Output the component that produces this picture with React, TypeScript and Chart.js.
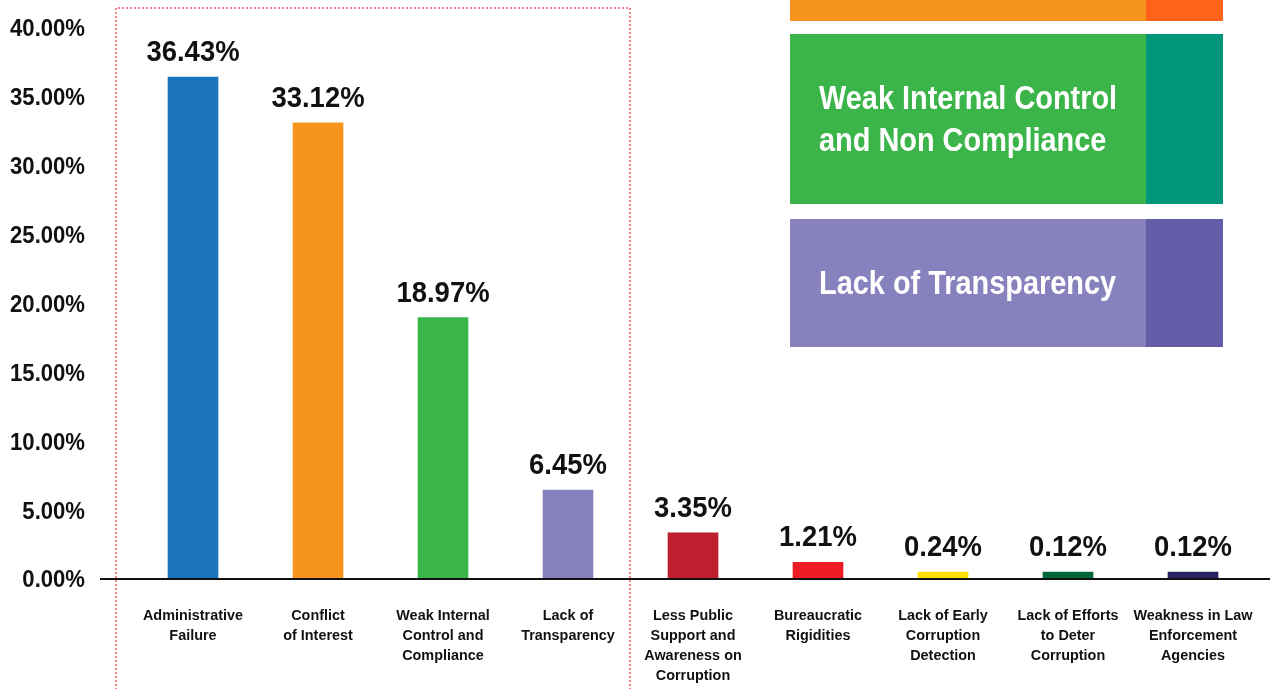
import React, { useEffect, useRef } from "react";
import { Chart, registerables } from "chart.js";

Chart.register(...registerables);

const categories: string[][] = [
  ["Administrative", "Failure"],
  ["Conflict", "of Interest"],
  ["Weak Internal", "Control and", "Compliance"],
  ["Lack of", "Transparency"],
  ["Less Public", "Support and", "Awareness on", "Corruption"],
  ["Bureaucratic", "Rigidities"],
  ["Lack of Early", "Corruption", "Detection"],
  ["Lack of Efforts", "to Deter", "Corruption"],
  ["Weakness in Law", "Enforcement", "Agencies"],
];
const values: number[] = [36.43, 33.12, 18.97, 6.45, 3.35, 1.21, 0.24, 0.12, 0.12];
const barColors: string[] = [
  "#1b75bc", "#f7941d", "#39b54a", "#8781bd", "#be1e2d",
  "#ed1c24", "#ffde00", "#006838", "#262262",
];
const yTicks: number[] = [0, 5, 10, 15, 20, 25, 30, 35, 40];

const keyLabels: string[][] = [[], ["Weak Internal Control", "and Non Compliance"], ["Lack of Transparency"]];
const keyMain: string[] = ["#f7941d", "#3bb54a", "#8781bd"];
const keyDark: string[] = ["#ff6319", "#00967a", "#645ea8"];

const FONT = "'Liberation Sans', Arial, sans-serif";

function squeezeText(ctx: any, text: string, x: number, y: number, sx: number) {
  ctx.save();
  ctx.translate(x, y);
  ctx.scale(sx, 1);
  ctx.fillText(text, 0, 0);
  ctx.restore();
}

const decorPlugin = {
  id: "decor",
  afterDatasetsDraw(chart: any) {
    const { ctx } = chart;
    const yScale = chart.scales.y;
    const xScale = chart.scales.x;
    const y0 = yScale.getPixelForValue(0);
    ctx.save();
    // zero line
    ctx.strokeStyle = "#111";
    ctx.lineWidth = 2;
    ctx.beginPath();
    ctx.moveTo(100, y0);
    ctx.lineTo(chart.width, y0);
    ctx.stroke();

    ctx.fillStyle = "#111";
    ctx.textBaseline = "alphabetic";

    // y tick labels
    ctx.font = `bold 23.5px ${FONT}`;
    ctx.textAlign = "right";
    yScale.ticks.forEach((t: any) => {
      const py = yScale.getPixelForValue(t.value);
      squeezeText(ctx, Number(t.value).toFixed(2) + "%", 85, py + 8.4, 0.94);
    });

    // x category labels
    ctx.font = `bold 15.5px ${FONT}`;
    ctx.textAlign = "center";
    categories.forEach((lines, i) => {
      const px = xScale.getPixelForTick(i);
      lines.forEach((ln, k) => squeezeText(ctx, ln, px, y0 + 41 + k * 20, 0.93));
    });

    // value labels
    const meta = chart.getDatasetMeta(0);
    ctx.font = `bold 30px ${FONT}`;
    ctx.textAlign = "center";
    meta.data.forEach((bar: any, i: number) => {
      squeezeText(ctx, values[i].toFixed(2) + "%", bar.x, bar.y - 16, 0.915);
    });

    // dotted box
    ctx.strokeStyle = "#ef5b66";
    ctx.lineWidth = 1.5;
    ctx.setLineDash([2, 2]);
    ctx.beginPath();
    ctx.moveTo(116, chart.height + 5);
    ctx.lineTo(116, 8);
    ctx.lineTo(630, 8);
    ctx.lineTo(630, chart.height + 5);
    ctx.stroke();
    ctx.setLineDash([]);

    // key boxes
    const boxes = [
      [0, 21],
      [34, 204],
      [219, 347],
    ];
    boxes.forEach((b, i) => {
      ctx.fillStyle = keyMain[i];
      ctx.fillRect(790, b[0], 356, b[1] - b[0]);
      ctx.fillStyle = keyDark[i];
      ctx.fillRect(1146, b[0], 77, b[1] - b[0]);
      const lines = keyLabels[i];
      ctx.fillStyle = "#ffffff";
      ctx.font = `bold 34px ${FONT}`;
      ctx.textAlign = "left";
      const mid = (b[0] + b[1]) / 2;
      const startBase = mid - (lines.length - 1) * 21 + 11;
      lines.forEach((t, k) => squeezeText(ctx, t, 819, startBase + k * 42, 0.85));
    });
    ctx.restore();
  },
};

export default function App() {
  const ref = useRef<HTMLCanvasElement | null>(null);
  useEffect(() => {
    document.body.style.margin = "0";
    const chart = new Chart(ref.current as HTMLCanvasElement, {
      type: "bar",
      data: {
        labels: categories,
        datasets: [
          {
            data: values,
            backgroundColor: barColors,
            barThickness: 50,
            minBarLength: 7,
          },
        ],
      },
      options: {
        animation: false,
        responsive: false,
        layout: { padding: { top: 28, right: 14.5, left: 0, bottom: 0 } },
        plugins: { legend: { display: false }, tooltip: { enabled: false } },
        scales: {
          x: {
            grid: { display: false, drawTicks: false },
            border: { display: false },
            ticks: { display: false },
            afterFit: (s: any) => {
              s.height = 110;
              s.paddingLeft = 0;
              s.paddingRight = 0;
            },
          },
          y: {
            min: 0,
            max: 40,
            grid: { display: false, drawTicks: false },
            border: { display: false },
            ticks: { display: false },
            afterBuildTicks: (s: any) => {
              s.ticks = yTicks.map((v) => ({ value: v }));
            },
            afterFit: (s: any) => {
              s.width = 130.5;
              s.paddingTop = 0;
              s.paddingBottom = 0;
            },
          },
        },
      },
      plugins: [decorPlugin],
    });
    return () => chart.destroy();
  }, []);
  return <canvas ref={ref} width={1270} height={689} style={{ display: "block" }} />;
}
